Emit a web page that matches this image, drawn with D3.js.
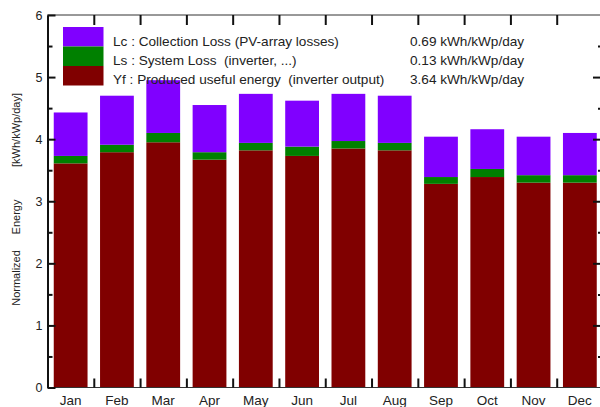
<!DOCTYPE html>
<html>
<head>
<meta charset="utf-8">
<script src="https://cdn.jsdelivr.net/npm/d3@7"></script>
<style>
  body { margin: 0; background: #fff; }
  svg text { font-family: "Liberation Sans", Arial, sans-serif; fill: #222; }
</style>
</head>
<body>
<div id="chart"></div>
<script>
// monthly normalized energies, kWh/kWp/day
var months = ["Jan", "Feb", "Mar", "Apr", "May", "Jun", "Jul", "Aug", "Sep", "Oct", "Nov", "Dec"];
var yf = [3.61, 3.79, 3.95, 3.67, 3.82, 3.73, 3.85, 3.82, 3.28, 3.39, 3.30, 3.30];
var ls = [0.12, 0.12, 0.15, 0.12, 0.12, 0.15, 0.12, 0.12, 0.11, 0.13, 0.12, 0.12];
var lc = [0.70, 0.79, 0.85, 0.76, 0.79, 0.74, 0.76, 0.76, 0.65, 0.64, 0.62, 0.68];

var keys = ["Yf", "Ls", "Lc"];
var legendKeys = ["Lc", "Ls", "Yf"];
var legendLabels = ["Lc : Collection Loss (PV-array losses)", "Ls : System Loss  (inverter, ...)", "Yf : Produced useful energy  (inverter output)"];
var legendValues = ["0.69 kWh/kWp/day", "0.13 kWh/kWp/day", "3.64 kWh/kWp/day"];
var yTicks = [0, 1, 2, 3, 4, 5, 6];
var yMinor = [0.5, 1.5, 2.5, 3.5, 4.5, 5.5];

var colors = { Lc: "#8000ff", Ls: "#008000", Yf: "#800000" };

var w = 600, h = 407;
// plot edges (the right edge falls just outside the picture)
var pLeft = 47.5, pRight = 603, pTop = 15, pBottom = 387.5;

var svg = d3.select("#chart").append("svg")
  .attr("width", w)
  .attr("height", h);

var x = d3.scaleBand()
  .domain(months)
  .range([pLeft, pRight])
  .paddingInner(0.27)
  .paddingOuter(0.135);

// month boundaries for the ticks
var xb = d3.scaleLinear().domain([0, 12]).range([pLeft, pRight]);

var y = d3.scaleLinear()
  .domain([0, 6])
  .range([pBottom, pTop]);

var table = months.map(function(m, i) {
  return { month: m, Yf: yf[i], Ls: ls[i], Lc: lc[i] };
});
var series = d3.stack().keys(keys)(table);

// bars
svg.append("g").selectAll("g")
  .data(series)
  .enter().append("g")
  .attr("fill", function(d) { return colors[d.key]; })
  .selectAll("rect")
  .data(function(d) { return d; })
  .enter().append("rect")
  .attr("x", function(d) { return x(d.data.month); })
  .attr("y", function(d) { return y(d[1]); })
  .attr("width", x.bandwidth())
  .attr("height", function(d) { return y(d[0]) - y(d[1]); });

// frame lines
svg.append("line").attr("x1", pLeft).attr("x2", pRight).attr("y1", pTop).attr("y2", pTop)
  .attr("stroke", "#333").attr("stroke-width", 1);
svg.append("line").attr("x1", pLeft).attr("x2", pRight).attr("y1", pBottom).attr("y2", pBottom)
  .attr("stroke", "#333").attr("stroke-width", 1);

// top ticks
svg.append("g")
  .attr("transform", "translate(0," + pTop + ")")
  .call(d3.axisTop(xb).tickValues(d3.range(1, 12)).tickSize(-10).tickFormat(""))
  .call(function(g) { g.select(".domain").remove(); })
  .selectAll("line").attr("stroke", "#111").attr("stroke-width", 2);

// bottom ticks
svg.append("g")
  .attr("transform", "translate(0," + pBottom + ")")
  .call(d3.axisBottom(xb).tickValues(d3.range(1, 12)).tickSize(-9).tickFormat(""))
  .call(function(g) { g.select(".domain").remove(); })
  .selectAll("line").attr("stroke", "#111").attr("stroke-width", 2);

// month labels
var xAxis = svg.append("g")
  .attr("transform", "translate(0," + pBottom + ")")
  .call(d3.axisBottom(x).tickSize(0).tickPadding(7.5));
xAxis.select(".domain").remove();
xAxis.selectAll("text").attr("font-size", 13.5).attr("font-family", null);

// left axis
var yAxis = svg.append("g")
  .attr("transform", "translate(" + pLeft + ",0)")
  .call(d3.axisLeft(y).tickValues(yTicks).tickSize(-8).tickSizeOuter(0).tickPadding(5).tickFormat(d3.format("d")));
yAxis.select(".domain").attr("stroke", "#111").attr("stroke-width", 2);
yAxis.selectAll("line").attr("stroke", "#111").attr("stroke-width", 2);
yAxis.selectAll("text").attr("font-size", 12.5).attr("font-family", null);

svg.append("g")
  .attr("transform", "translate(" + pLeft + ",0)")
  .call(d3.axisLeft(y).tickValues(yMinor).tickSize(-5).tickFormat(""))
  .call(function(g) { g.select(".domain").remove(); })
  .selectAll("line").attr("stroke", "#111").attr("stroke-width", 2);

// right axis
svg.append("g")
  .attr("transform", "translate(" + pRight + ",0)")
  .call(d3.axisRight(y).tickValues(yTicks.slice(1, 6)).tickSize(-10).tickFormat(""))
  .call(function(g) { g.select(".domain").remove(); })
  .selectAll("line").attr("stroke", "#111").attr("stroke-width", 2);
svg.append("g")
  .attr("transform", "translate(" + pRight + ",0)")
  .call(d3.axisRight(y).tickValues(yMinor).tickSize(-5).tickFormat(""))
  .call(function(g) { g.select(".domain").remove(); })
  .selectAll("line").attr("stroke", "#111").attr("stroke-width", 2);

// y label
var yLabel = [["[kWh/kWp/day]", 130], ["Energy", 217], ["Normalized", 278]];
yLabel.forEach(function(l) {
  svg.append("text")
    .attr("transform", "translate(19.5," + l[1] + ") rotate(-90)")
    .attr("text-anchor", "middle")
    .attr("font-size", 11)
    .text(l[0]);
});

// legend
var legend = svg.append("g");
var lgTop = 27, lgRow = 19.5;
legend.selectAll("rect")
  .data(legendKeys)
  .enter().append("rect")
  .attr("x", 63)
  .attr("y", function(d, i) { return lgTop + i * lgRow; })
  .attr("width", 40.5)
  .attr("height", lgRow)
  .attr("fill", function(d) { return colors[d]; });

legend.selectAll("text.lab")
  .data(legendLabels)
  .enter().append("text")
  .attr("class", "lab")
  .attr("x", 113)
  .attr("y", function(d, i) { return 46 + i * 19; })
  .attr("font-size", 13.6)
  .style("white-space", "pre")
  .text(function(d) { return d; });

legend.selectAll("text.val")
  .data(legendValues)
  .enter().append("text")
  .attr("class", "val")
  .attr("x", 410)
  .attr("y", function(d, i) { return 46 + i * 19; })
  .attr("font-size", 13.6)
  .text(function(d) { return d; });
</script>
</body>
</html>
